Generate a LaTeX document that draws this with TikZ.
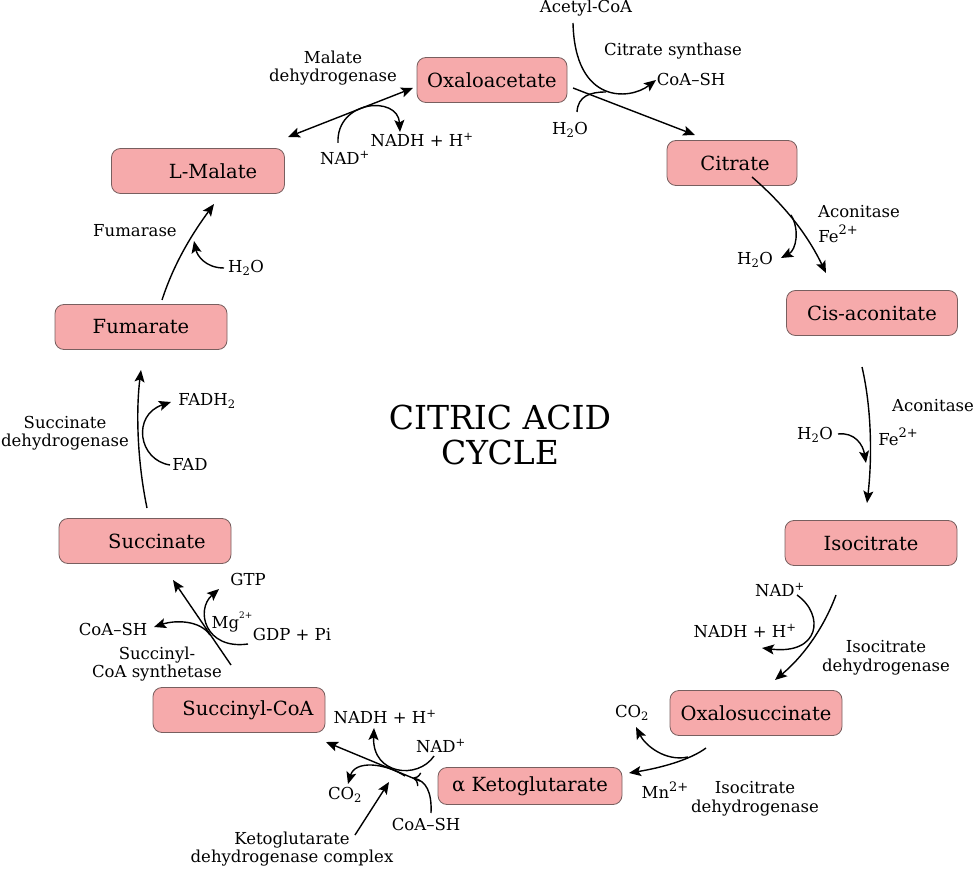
\documentclass[tikz,border=0pt]{standalone}
\usepackage{fontspec}
\setmainfont{DejaVu Serif}
\usetikzlibrary{arrows.meta}
\definecolor{boxfill}{RGB}{246,170,171}
\definecolor{boxline}{RGB}{120,95,95}
\newcommand{\bigsup}[1]{\raisebox{0.45em}{\fontsize{13}{13}\selectfont #1}}
\begin{document}
\begin{tikzpicture}[x=1pt,y=-1pt,
  mol/.style={draw=boxline, fill=boxfill, rounded corners=9pt, line width=0.8pt,
    font=\fontsize{19.5}{22}\selectfont, inner sep=0pt, minimum width=172, minimum height=45},
  lab/.style={font=\fontsize{16.5}{18.5}\selectfont, inner sep=0pt, align=center},
  rx/.style={line width=1.4pt, -{Stealth[length=12pt,width=10pt,inset=2.5pt]}},
  rxx/.style={line width=1.4pt, {Stealth[length=12pt,width=10pt,inset=2.5pt]}-{Stealth[length=12pt,width=10pt,inset=2.5pt]}},
  rxo/.style={line width=1.4pt, -{To[length=7pt,width=14pt]}},
  ln/.style={line width=1.4pt}]
\useasboundingbox (0,0) rectangle (978,869);

% molecules
\node[mol, minimum width=150] (oaa) at (492,80) {Oxaloacetate};
\node[mol, minimum width=130] (cit) at (732,163) {\hspace*{6pt}Citrate};
\node[mol, minimum width=171] (cis) at (872,313) {Cis-aconitate};
\node[mol] (iso) at (871,543) {Isocitrate};
\node[mol] (oxs) at (756,713) {Oxalosuccinate};
\node[mol, minimum width=184, minimum height=37] (akg) at (530,786) {α Ketoglutarate};
\node[mol] (scoa) at (239,710) {\hspace*{18pt}Succinyl-CoA};
\node[mol] (suc) at (145,541) {\hspace*{24pt}Succinate};
\node[mol] (fum) at (141,327) {Fumarate};
\node[mol, minimum width=173] (mal) at (198,171) {\hspace*{30pt}L-Malate};

% title
\node[font=\fontsize{33}{38}\selectfont, inner sep=0pt, align=center] (title) at (500,435) {CITRIC ACID\\[-3pt]CYCLE};

% ---------- Malate dehydrogenase
\node[lab] (mdh) at (333,68) {Malate\\dehydrogenase};
\node[lab] (nad1) at (345,158) {NAD\textsuperscript{+}};
\node[lab] (nadh1) at (422,140) {NADH + H\textsuperscript{+}};
\coordinate (m1) at (288,137);
\coordinate (m2) at (413,88);
\coordinate (m3) at (338,143);
\coordinate (m4) at (400,132);
\draw[rxx] (m1) -- (m2);
\draw[rx] (m3) .. controls (336,100) and (398,95) .. (m4);

% ---------- Citrate synthase
\node[lab] (acoa) at (586,8) {Acetyl-CoA};
\node[lab] (cs) at (673,51) {Citrate synthase};
\node[lab] (coash1) at (691,79) {CoA–SH};
\node[lab] (h2o1) at (570,130) {H\textsubscript{2}O};
\coordinate (c1) at (573,88);
\coordinate (c2) at (695,135);
\coordinate (c3) at (573,23);
\coordinate (c4) at (656,80);
\coordinate (c5) at (577,112);
\coordinate (c6) at (606,92);
\draw[rx] (c1) -- (c2);
\draw[rx] (c3) .. controls (575,105) and (630,100) .. (c4);
\draw[ln] (c5) .. controls (578,96) and (590,92) .. (c6);

% ---------- Aconitase 1
\node[lab] (acon1) at (859,212) {Aconitase};
\node[lab] (fe1) at (838,234) {Fe\bigsup{2+}};
\node[lab] (h2o2) at (755,260) {H\textsubscript{2}O};
\coordinate (a1) at (752,177);
\coordinate (a2) at (826,273);
\coordinate (a3) at (791,215);
\coordinate (a4) at (781,258);
\draw[rx] (a1) .. controls (790,210) and (810,240) .. (a2);
\draw[rx] (a3) .. controls (800,230) and (796,250) .. (a4);

% ---------- Aconitase 2
\node[lab] (acon2) at (933,406) {Aconitase};
\node[lab] (fe2) at (898,437) {Fe\bigsup{2+}};
\node[lab] (h2o3) at (815,435) {H\textsubscript{2}O};
\coordinate (b1) at (862,367);
\coordinate (b2) at (867,503);
\coordinate (b3) at (838,434);
\coordinate (b4) at (866,463);
\draw[rx] (b1) .. controls (872,410) and (872,460) .. (b2);
\draw[rx] (b3) .. controls (855,432) and (863,445) .. (b4);

% ---------- Isocitrate dehydrogenase 1
\node[lab] (nad2) at (780,590) {NAD\textsuperscript{+}};
\node[lab] (nadh2) at (745,631) {NADH + H\textsuperscript{+}};
\node[lab] (idh1) at (886,658) {Isocitrate\\dehydrogenase};
\coordinate (d1) at (836,595);
\coordinate (d2) at (775,680);
\coordinate (d3) at (797,595);
\coordinate (d4) at (762,648);
\draw[rx] (d1) .. controls (825,625) and (805,655) .. (d2);
\draw[rx] (d3) .. controls (825,615) and (820,655) .. (d4);

% ---------- Isocitrate dehydrogenase 2
\node[lab] (co2a) at (632,713) {CO\textsubscript{2}};
\node[lab] (mn) at (665,790) {Mn\bigsup{2+}};
\node[lab] (idh2) at (755,799) {Isocitrate\\dehydrogenase};
\coordinate (e1) at (706,748);
\coordinate (e2) at (629,773);
\coordinate (e3) at (688,757);
\coordinate (e4) at (636,727);
\draw[rx] (e1) .. controls (690,760) and (660,768) .. (e2);
\draw[rx] (e3) .. controls (665,762) and (645,745) .. (e4);

% ---------- Ketoglutarate dehydrogenase complex
\node[lab] (nadh3) at (385,717) {NADH + H\textsuperscript{+}};
\node[lab] (nad3) at (441,746) {NAD\textsuperscript{+}};
\node[lab] (co2b) at (345,795) {CO\textsubscript{2}};
\node[lab] (coash2) at (426,824) {CoA–SH};
\node[lab] (kdh) at (292,849) {Ketoglutarate\\dehydrogenase complex};
\coordinate (k1) at (420,781);
\coordinate (k2) at (326,742);
\coordinate (k3) at (431,813);
\coordinate (k4) at (413,778);
\coordinate (k5) at (434,756);
\coordinate (k6) at (374,728);
\coordinate (k7) at (405,776);
\coordinate (k8) at (348,784);
\coordinate (k9) at (355,835);
\coordinate (k10) at (389,782);
\draw[rx] (k1) -- (k2);
\draw[rxo] (k3) .. controls (432,792) and (426,781) .. (k4);
\draw[rx] (k5) .. controls (418,780) and (372,775) .. (k6);
\draw[rx] (k7) .. controls (385,763) and (355,760) .. (k8);
\draw[rx] (k9) -- (k10);

% ---------- Succinyl-CoA synthetase
\node[lab] (gtp) at (248,579) {GTP};
\node[lab] (mg) at (232,622) {Mg\raisebox{0.6em}{\fontsize{9}{9}\selectfont 2+}};
\node[lab] (gdp) at (292,634) {GDP + Pi};
\node[lab] (coash3) at (113,629) {CoA–SH};
\node[lab] (scs) at (157,664) {Succinyl-\\CoA synthetase};
\coordinate (s1) at (231,665);
\coordinate (s2) at (173,580);
\coordinate (s3) at (248,644);
\coordinate (s4) at (219,589);
\coordinate (s5) at (210,635);
\coordinate (s6) at (154,627);
\draw[rx] (s1) -- (s2);
\draw[rx] (s3) .. controls (205,650) and (195,610) .. (s4);
\draw[rx] (s5) .. controls (200,620) and (175,620) .. (s6);

% ---------- Succinate dehydrogenase
\node[lab] (fadh) at (207,401) {FADH\textsubscript{2}};
\node[lab] (fad) at (190,464) {FAD};
\node[lab] (sdh) at (65,433) {Succinate\\dehydrogenase};
\coordinate (f1) at (147,508);
\coordinate (f2) at (141,370);
\coordinate (f3) at (170,465);
\coordinate (f4) at (171,402);
\draw[rx] (f1) .. controls (137,460) and (136,410) .. (f2);
\draw[rx] (f3) .. controls (138,460) and (132,415) .. (f4);

% ---------- Fumarase
\node[lab] (fumase) at (135,231) {Fumarase};
\node[lab] (h2o4) at (246,268) {H\textsubscript{2}O};
\coordinate (g1) at (162,300);
\coordinate (g2) at (214,204);
\coordinate (g3) at (224,268);
\coordinate (g4) at (194,241);
\draw[rx] (g1) .. controls (175,260) and (195,230) .. (g2);
\draw[rx] (g3) .. controls (205,268) and (197,255) .. (g4);
\end{tikzpicture}
\end{document}
